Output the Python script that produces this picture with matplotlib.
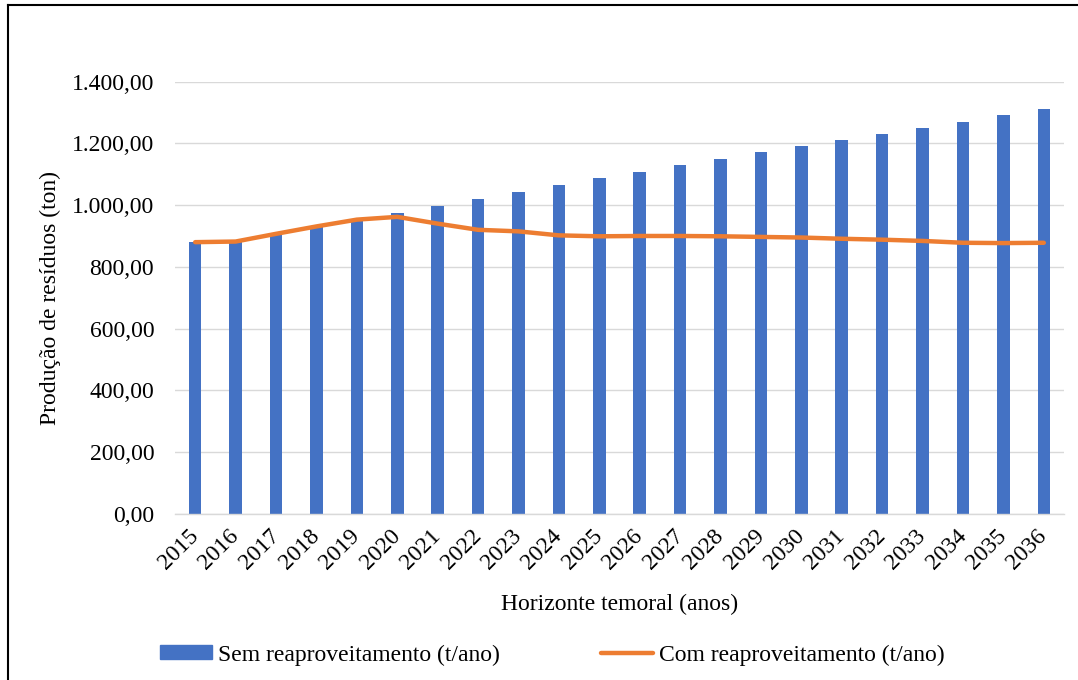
import matplotlib
matplotlib.use("Agg")
import matplotlib.pyplot as plt
from matplotlib.patches import Rectangle
from matplotlib.lines import Line2D
from matplotlib.ticker import FuncFormatter
import numpy as np

plt.rcParams["font.family"] = ["Liberation Serif", "DejaVu Serif"]

# Anos do horizonte de planejamento
anos = [str(a) for a in range(2015, 2037)]

# Produção de resíduos (t/ano)
sem_reaproveitamento = [880, 884, 906, 928, 950, 974, 997, 1020, 1042, 1064, 1087,
                        1108, 1130, 1151, 1172, 1190, 1211, 1231, 1251, 1271, 1291, 1310]
com_reaproveitamento = [880, 882, 907, 931, 953, 962, 940, 920, 915, 902, 899,
                        900, 900, 899, 897, 895, 891, 888, 884, 878, 877, 878]

rotulo_barras = "Sem reaproveitamento (t/ano)"
rotulo_linha = "Com reaproveitamento (t/ano)"

AZUL = "#4472C4"
LARANJA = "#ED7D31"
GRADE = "#D9D9D9"
FS = 17

W, H = 1078, 680
fig = plt.figure(figsize=(W / 100, H / 100), dpi=100)
ax = fig.add_axes([175 / W, 1 - 513.7 / H, (1064 - 175) / W, (513.7 - 81.7) / H])

x = np.arange(len(anos))
ax.bar(x, sem_reaproveitamento, width=0.31, color=AZUL, zorder=2)
ax.plot(x, com_reaproveitamento, color=LARANJA, linewidth=3.2,
        solid_joinstyle="round", solid_capstyle="round", zorder=3)

ax.set_xlim(-0.5, len(anos) - 0.5)
ax.set_ylim(0, 1400)
ax.set_yticks(np.arange(0, 1401, 200))


def fmt_br(v, pos):
    s = f"{v:,.2f}"
    return s.replace(",", "X").replace(".", ",").replace("X", ".")


ax.yaxis.set_major_formatter(FuncFormatter(fmt_br))
ax.set_xticks(x)
ax.set_xticklabels(anos, rotation=45, ha="right", va="center",
                   rotation_mode="anchor", fontsize=FS)
ax.tick_params(axis="y", length=0, pad=15, labelsize=FS)
ax.tick_params(axis="x", length=0, pad=14)

ax.grid(axis="y", color=GRADE, linewidth=1.0, zorder=0)
ax.set_axisbelow(True)
for side in ["top", "right", "left"]:
    ax.spines[side].set_visible(False)
ax.spines["bottom"].set_color(GRADE)
ax.spines["bottom"].set_linewidth(1.0)

fig.text(50 / W, 1 - 297.7 / H, "Produção de resíduos (ton)", rotation=90,
         ha="center", va="center", fontsize=FS)
fig.text(619.5 / W, 1 - 604 / H, "Horizonte temoral (anos)",
         ha="center", va="center", fontsize=FS)

handles = [Rectangle((0, 0), 1, 1, color=AZUL),
           Line2D([0], [0], color=LARANJA, linewidth=3.2, solid_capstyle="round")]
fig.legend(handles, [rotulo_barras, rotulo_linha], loc="center",
           bbox_to_anchor=(552.5 / W, 1 - 655 / H), ncol=2, frameon=False,
           fontsize=FS, handlelength=2.2, handleheight=0.5, handletextpad=0.25,
           columnspacing=4.3)

# Moldura da figura
fig.add_artist(Line2D([8.3 / W, 8.3 / W], [0, 1 - 4.7 / H], color="black",
                      linewidth=1.5, transform=fig.transFigure))
fig.add_artist(Line2D([8.3 / W, 1], [1 - 4.7 / H, 1 - 4.7 / H], color="black",
                      linewidth=1.5, transform=fig.transFigure))

fig.savefig("out.png", dpi=100)
